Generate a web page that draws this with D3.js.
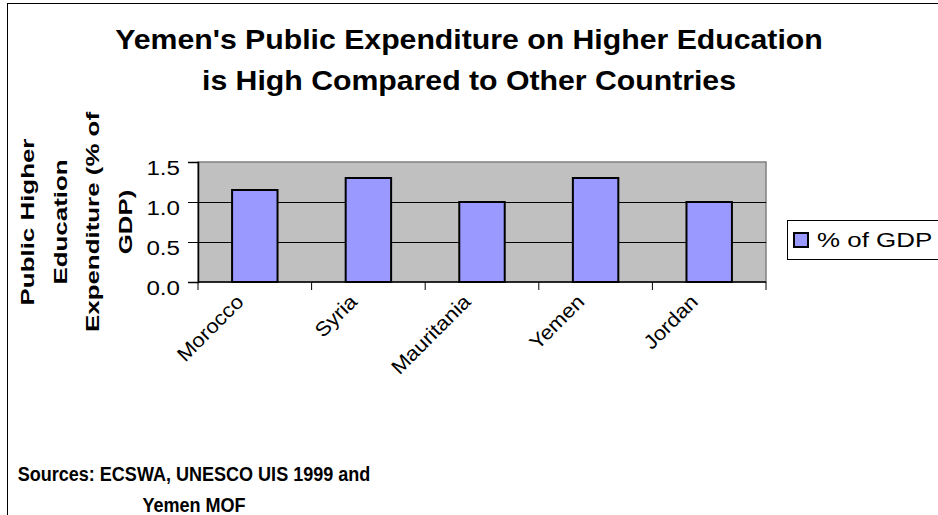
<!DOCTYPE html>
<html>
<head>
<meta charset="utf-8">
<script src="https://cdn.jsdelivr.net/npm/d3@7"></script>
<style>
  html, body { margin: 0; padding: 0; background: #fff; }
  svg { display: block; font-family: "Liberation Sans", Arial, sans-serif; }
</style>
</head>
<body>
<svg id="chart" width="938" height="515"></svg>
<script>
// Public higher-education expenditure, % of GDP
const countries = ["Morocco", "Syria", "Mauritania", "Yemen", "Jordan"];
const gdpShare = [1.15, 1.3, 1.0, 1.3, 1.0];
const yTicks = [0, 0.5, 1.0, 1.5];
const titleLines = ["Yemen's Public Expenditure on Higher Education", "is High Compared to Other Countries"];
const yTitleLines = ["Public Higher", "Education", "Expenditure (% of", "GDP)"];
const sourceLines = ["Sources: ECSWA, UNESCO UIS 1999 and", "Yemen MOF"];
const seriesName = "% of GDP";

const svg = d3.select("#chart");

// place a text at (x, y) widened horizontally by factor f around its anchor
function placeWide(sel, x, y, f, rot) {
  sel.attr("x", 0).attr("y", 0)
    .attr("transform", (d, i) => {
      const xx = typeof x === "function" ? x(d, i) : x;
      const yy = typeof y === "function" ? y(d, i) : y;
      return `translate(${xx},${yy})` + (rot ? ` rotate(${rot})` : "") + ` scale(${f},1)`;
    });
  return sel;
}

// outer chart frame
svg.append("rect")
  .attr("x", 7.5).attr("y", 3.5)
  .attr("width", 940).attr("height", 520)
  .attr("fill", "#fff").attr("stroke", "#000").attr("stroke-width", 1);

const plot = { left: 198, top: 162, right: 766, bottom: 282 };

const x = d3.scaleBand()
  .domain(countries)
  .range([plot.left, plot.right])
  .paddingInner(0.6).paddingOuter(0.3);

const xEdges = d3.scalePoint()
  .domain(d3.range(countries.length + 1))
  .range([plot.left, plot.right]);

const y = d3.scaleLinear().domain([0, 1.5]).range([plot.bottom, plot.top]);

// plot background
svg.append("rect")
  .attr("x", plot.left).attr("y", plot.top)
  .attr("width", plot.right - plot.left).attr("height", plot.bottom - plot.top)
  .attr("fill", "#c0c0c0").attr("stroke", "#808080").attr("stroke-width", 1.5);

// horizontal gridlines
svg.append("g").selectAll("line")
  .data(yTicks.filter(d => d > 0 && d < 1.5))
  .join("line")
  .attr("x1", plot.left).attr("x2", plot.right)
  .attr("y1", d => Math.round(y(d)) + 0.5).attr("y2", d => Math.round(y(d)) + 0.5)
  .attr("stroke", "#000").attr("stroke-width", 1);

// bars
svg.append("g").selectAll("rect")
  .data(countries)
  .join("rect")
  .attr("x", d => x(d))
  .attr("y", (d, i) => y(gdpShare[i]))
  .attr("width", x.bandwidth())
  .attr("height", (d, i) => y(0) - y(gdpShare[i]))
  .attr("fill", "#9999ff").attr("stroke", "#000").attr("stroke-width", 2);

// y axis
const yAxis = svg.append("g")
  .attr("transform", `translate(${plot.left},0)`)
  .call(d3.axisLeft(y).tickValues(yTicks).tickFormat(d3.format(".1f")).tickSize(10).tickPadding(4));
yAxis.select(".domain").attr("stroke", "#000").attr("stroke-width", 1.5);
yAxis.selectAll(".tick line").attr("stroke", "#000");
yAxis.selectAll(".tick text").remove();
yAxis.selectAll(".tick").append("text")
  .attr("text-anchor", "end")
  .attr("font-size", 21).attr("fill", "#000")
  .attr("font-family", "Liberation Sans, Arial, sans-serif")
  .attr("dy", "0.35em")
  .text(d => d3.format(".1f")(d))
  .call(s => placeWide(s, -18, 5, 1.15));

// x axis with category boundary ticks
const xAxisG = svg.append("g").attr("transform", `translate(0,${plot.bottom})`);
xAxisG.append("line")
  .attr("x1", plot.left).attr("x2", plot.right)
  .attr("stroke", "#000").attr("stroke-width", 1.5);
xAxisG.selectAll("line.tk")
  .data(xEdges.domain())
  .join("line").attr("class", "tk")
  .attr("x1", d => xEdges(d)).attr("x2", d => xEdges(d))
  .attr("y1", 0).attr("y2", 8)
  .attr("stroke", "#000").attr("stroke-width", 1);

// rotated category labels
xAxisG.selectAll("text")
  .data(countries)
  .join("text")
  .attr("text-anchor", "end")
  .attr("font-size", 20)
  .attr("fill", "#000")
  .text(d => d)
  .call(s => placeWide(s, d => x(d) + x.bandwidth() / 2 - 10, 21, 1.1, -45));

// title
svg.append("g").selectAll("text")
  .data(titleLines)
  .join("text")
  .attr("text-anchor", "middle")
  .attr("font-size", 28).attr("font-weight", "bold")
  .text(d => d)
  .call(s => placeWide(s, 469, (d, i) => 49 + i * 41, 1.08));

// y axis title
svg.append("g").selectAll("text")
  .data(yTitleLines)
  .join("text")
  .attr("text-anchor", "middle")
  .attr("font-size", 18.5).attr("font-weight", "bold")
  .text(d => d)
  .call(s => placeWide(s, (d, i) => 34 + i * 32.5, 222, 1.4, -90));

// legend
const legend = svg.append("g");
legend.append("rect")
  .attr("x", 787.5).attr("y", 220.5).attr("width", 160).attr("height", 39)
  .attr("fill", "#fff").attr("stroke", "#000").attr("stroke-width", 1);
legend.append("rect")
  .attr("x", 794).attr("y", 233).attr("width", 14).attr("height", 14)
  .attr("fill", "#9999ff").attr("stroke", "#000").attr("stroke-width", 2);
legend.append("text")
  .attr("font-size", 19.5)
  .text(seriesName)
  .call(s => placeWide(s, 817, 247, 1.33));

// sources note
svg.append("g").selectAll("text")
  .data(sourceLines)
  .join("text")
  .attr("text-anchor", "middle")
  .attr("font-size", 20.5).attr("font-weight", "bold")
  .text(d => d)
  .call(s => placeWide(s, 194, (d, i) => 481 + i * 31, 0.88));
</script>
</body>
</html>
